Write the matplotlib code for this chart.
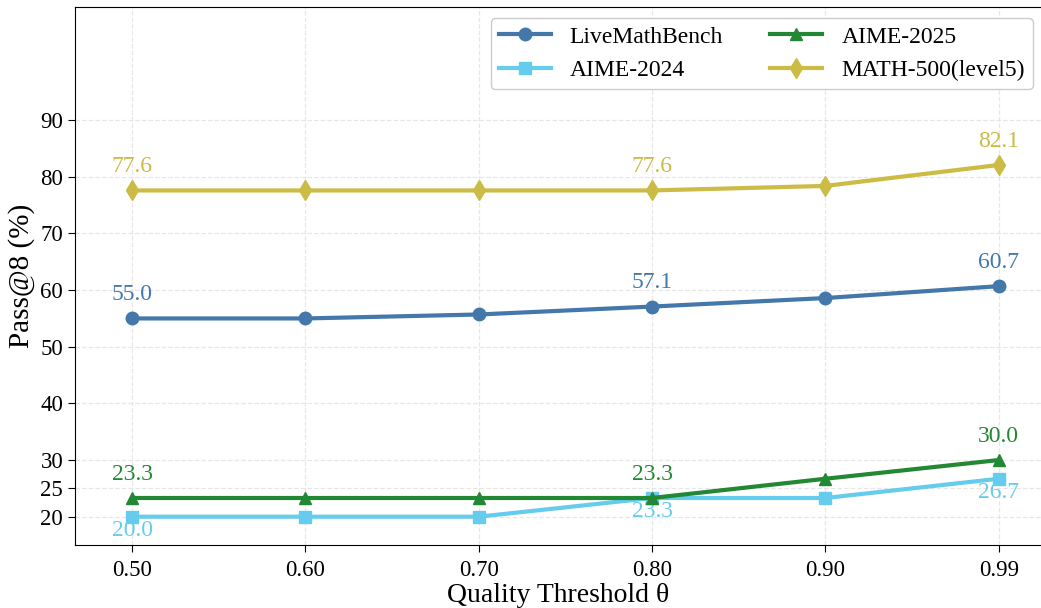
import numpy as np
import matplotlib
matplotlib.use('Agg')
import matplotlib.pyplot as plt

# Данные
thresholds = ['0.50', '0.60', '0.70', '0.80', '0.90', '0.99']
livemath = [55.0, 55.0, 55.7, 57.1, 58.6, 60.7]
aime24 = [20.0, 20.0, 20.0, 23.3, 23.3, 26.7]
aime25 = [23.3, 23.3, 23.3, 23.3, 26.7, 30.0]
math500 = [77.6, 77.6, 77.6, 77.6, 78.4, 82.1]
label_idx = [0, 3, 5]
yticks = [20, 25, 30, 40, 50, 60, 70, 80, 90]

plt.rcParams['font.family'] = ['Liberation Serif', 'DejaVu Serif']

fig = plt.figure(figsize=(10.41, 6.08), dpi=100)
ax = fig.add_axes([0.072, 0.1036, 0.929, 0.885])

x = np.arange(len(thresholds))
series = [
    ('LiveMathBench', livemath, '#4477AA', 'o', 'above'),
    ('AIME-2024', aime24, '#66CCEE', 's', 'below'),
    ('AIME-2025', aime25, '#228833', '^', 'above'),
    ('MATH-500(level5)', math500, '#CCBB44', 'd', 'above'),
]

handles = {}
for name, vals, color, marker, pos in series:
    ms = 9 if marker != 'd' else 10
    h, = ax.plot(x, vals, color=color, marker=marker, lw=3, ms=ms, label=name, zorder=3)
    handles[name] = h
    for i in label_idx:
        dy = 17 if pos == 'above' else -10
        ax.annotate(f'{vals[i]:.1f}', (x[i], vals[i]), xytext=(0, dy),
                    textcoords='offset points', ha='center', va='center',
                    color=color, fontsize=17)

ax.set_xticks(x)
ax.set_xticklabels(thresholds)
ax.set_yticks(yticks)
ax.set_xlim(-0.33, 5.25)
ax.set_ylim(15, 110)
ax.tick_params(labelsize=16.5, length=5)
ax.tick_params(axis='x', pad=6)
ax.set_xlabel('Quality Threshold θ', fontsize=20, labelpad=1)
ax.set_ylabel('Pass@8 (%)', fontsize=21, labelpad=4)
ax.grid(True, ls='--', color='#dddddd', alpha=0.7, lw=0.9)
ax.set_axisbelow(True)

order = ['LiveMathBench', 'AIME-2024', 'AIME-2025', 'MATH-500(level5)']
ax.legend([handles[n] for n in order], order, ncol=2, loc='upper right',
          fontsize=17, handlelength=2.2, handletextpad=0.8, columnspacing=2.0,
          borderpad=0.35, labelspacing=0.5, borderaxespad=0,
          bbox_to_anchor=(0.9907, 0.9796), framealpha=1, edgecolor='#cccccc')

fig.savefig('out.png', dpi=100)
